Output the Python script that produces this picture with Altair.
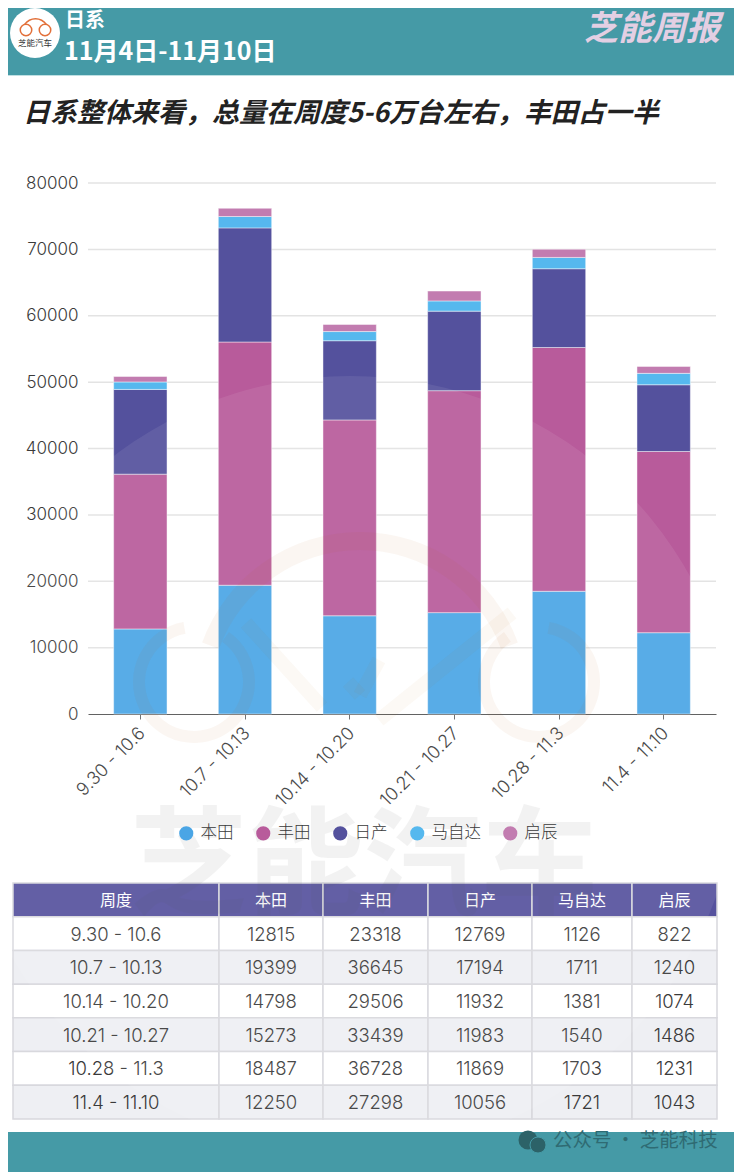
import altair as alt
import pandas as pd

weeks = ["9.30 - 10.6", "10.7 - 10.13", "10.14 - 10.20", "10.21 - 10.27", "10.28 - 11.3", "11.4 - 11.10"]
brands = ["本田", "丰田", "日产", "马自达", "启辰"]
honda = [12815, 19399, 14798, 15273, 18487, 12250]
toyota = [23318, 36645, 29506, 33439, 36728, 27298]
nissan = [12769, 17194, 11932, 11983, 11869, 10056]
mazda = [1126, 1711, 1381, 1540, 1703, 1721]
venucia = [822, 1240, 1074, 1486, 1231, 1043]
series = [honda, toyota, nissan, mazda, venucia]
colors = ["#4AA5E5", "#B85B9B", "#54519D", "#56B8EE", "#C27CB0"]
y_ticks = [0, 10000, 20000, 30000, 40000, 50000, 60000, 70000, 80000]

header_lines = ["日系", "11月4日-11月10日"]
brand_mark = "芝能周报"
title_text = "日系整体来看，总量在周度5-6万台左右，丰田占一半"
watermark_text = "芝能汽车"
footer_text = "公众号 · 芝能科技"
logo_text = "芝能汽车"
table_head = ["周度"] + brands
col_edges = [5, 211, 315, 420, 524, 624, 709]

CJK = "Noto Sans CJK SC"
NUM = "Inter, Noto Sans CJK SC"
TEAL = "#459AA6"
W, H = 726, 1164

one = pd.DataFrame({"a": [0]})

def box(x, x2, y, y2, color, opacity=1.0):
    return alt.Chart(one).mark_rect(color=color, opacity=opacity).encode(
        x=alt.value(x), x2=alt.value(x2), y=alt.value(y), y2=alt.value(y2))

def label(text, x, y, size, color, align="left", weight="normal", style="normal", font=CJK, opacity=1.0):
    return alt.Chart(one).mark_text(text=text, x=x, y=y, fontSize=size, color=color, align=align,
                                    baseline="middle", fontWeight=weight, fontStyle=style, font=font,
                                    opacity=opacity).encode()

def ring(x, y, r, r2, t1, t2, color, opacity):
    return alt.Chart(one).mark_arc(x=x, y=y, radius=r, radius2=r2, theta=t1, theta2=t2,
                                   color=color, opacity=opacity).encode()

def seg(x, y, x2, y2, width, color, opacity):
    return alt.Chart(one).mark_rule(strokeWidth=width, color=color, opacity=opacity).encode(
        x=alt.value(x), y=alt.value(y), x2=alt.value(x2), y2=alt.value(y2))

rad = 3.14159265 / 180

# stacked bars
rows = []
for i, (b, vals) in enumerate(zip(brands, series)):
    for w, v in zip(weeks, vals):
        rows.append({"week": w, "brand": b, "value": v, "order": i})
bars_df = pd.DataFrame(rows)

y_scale = alt.Scale(domain=[0, 80000], range=[706, 175])
grid = alt.Chart(pd.DataFrame({"tick": y_ticks[1:]})).mark_rule(color="#E3E3E3", strokeWidth=1.5).encode(
    y=alt.Y("tick:Q", scale=y_scale, axis=None), x=alt.value(80), x2=alt.value(708))

bars = alt.Chart(bars_df).mark_bar(stroke="#FFFFFF", strokeOpacity=0.45, strokeWidth=1).encode(
    x=alt.X("week:N", sort=weeks, title=None,
            scale=alt.Scale(range=[80, 708], paddingInner=0.49, paddingOuter=0.245),
            axis=alt.Axis(offset=-458, labelAngle=315, labelAlign="right", labelBaseline="top",
                          labelFontSize=18, labelColor="#3A3A3A", labelFont=NUM, labelFontWeight=300,
                          labelPadding=5, labelOffset=-4, labelLimit=200, tickColor="#666666", tickSize=5,
                          domainColor="#555555", domainWidth=1, grid=False, labelOverlap=False)),
    y=alt.Y("value:Q", stack="zero", title=None, scale=y_scale,
            axis=alt.Axis(offset=-80, values=y_ticks, domain=False, ticks=False, grid=False,
                          labelFontSize=17, labelColor="#3A3A3A", labelFont=NUM, labelFontWeight=300,
                          labelPadding=10, format="d")),
    color=alt.Color("brand:N", sort=brands, title=None,
                    scale=alt.Scale(domain=brands, range=colors),
                    legend=alt.Legend(orient="none", legendX=170, legendY=817, direction="horizontal",
                                      columns=5, symbolType="circle", symbolSize=200, symbolStrokeWidth=0,
                                      labelFontSize=16.5, labelFont=NUM, labelFontWeight=300,
                                      labelColor="#3A3A3A", labelOffset=6, columnPadding=21,
                                      symbolOpacity=1)),
    order=alt.Order("order:Q", sort="ascending"),
)

# table
cell_rows = []
row_names = ["head"] + weeks
for r, name in enumerate(row_names):
    for c in range(6):
        if r == 0:
            txt, fill, ink = table_head[c], "#56529E", "#FFFFFF"
        else:
            txt = weeks[r - 1] if c == 0 else str(series[c - 1][r - 1])
            fill = "#FFFFFF" if r % 2 == 1 else "#EEEFF3"
            ink = "#3A3A3A"
        cell_rows.append({"row": name, "x0": col_edges[c], "x1": col_edges[c + 1],
                          "xc": (col_edges[c] + col_edges[c + 1]) / 2, "txt": txt, "fill": fill, "ink": ink,
                          "head": r == 0})
cells_df = pd.DataFrame(cell_rows)
row_y = alt.Y("row:N", sort=row_names, axis=None, title=None,
              scale=alt.Scale(domain=row_names, range=[875, 1111], paddingInner=0, paddingOuter=0))
cells = alt.Chart(cells_df).mark_rect(stroke="#D8D8DD", strokeWidth=1.5).encode(
    x=alt.X("x0:Q", scale=None, axis=None), x2="x1:Q", y=row_y, fill=alt.Fill("fill:N", scale=None))
cell_text = alt.Chart(cells_df[~cells_df["head"]]).mark_text(fontSize=18.5, font=NUM, fontWeight=300, baseline="middle", dy=1).encode(
    x=alt.X("xc:Q", scale=None, axis=None), y=row_y, text="txt:N", color=alt.Color("ink:N", scale=None))
head_text = alt.Chart(cells_df[cells_df["head"]]).mark_text(fontSize=16, font=CJK, baseline="middle", dy=1.5).encode(
    x=alt.X("xc:Q", scale=None, axis=None), y=row_y, text="txt:N", color=alt.Color("ink:N", scale=None))

# faint watermark on top of the bars and the table
WM = "#C06A20"
disc = alt.Chart(one).mark_arc(x=342, y=757, radius=389, theta=0, theta2=6.2832, color="#FFFFFF", opacity=0.08).encode()
watermark = [
    ring(186, 674, 61, 49, 35 * rad, 350 * rad, WM, 0.06),
    ring(531, 674, 61, 49, 10 * rad, 325 * rad, WM, 0.06),
    ring(352, 692, 168, 150, 290 * rad, 430 * rad, WM, 0.06),
    seg(238, 615, 314, 699, 14, WM, 0.045),
    seg(504, 605, 371, 712, 14, WM, 0.045),
    seg(340, 674, 352, 687, 14, WM, 0.045),
    seg(352, 687, 371, 652, 14, WM, 0.045),
    label(watermark_text, 356, 862, 117, "#555555", align="center", weight="bold", opacity=0.07),
]

# header and footer
chrome = [
    box(0, W, 0, 67, TEAL),
    box(0, W, 67, 68, "#BFE0E3"),
    box(0, W, 1124, H, TEAL),
    alt.Chart(one).mark_arc(x=27, y=25, radius=25, theta=0, theta2=6.2832, color="#FFFFFF").encode(),
    ring(18, 22, 6.5, 5, 0, 6.2832, "#E2703A", 1),
    ring(37, 22, 6.5, 5, 0, 6.2832, "#E2703A", 1),
    ring(27.5, 24, 14, 12.5, 305 * rad, 415 * rad, "#E2703A", 1),
    label(logo_text, 27, 35, 8.5, "#333333", align="center"),
    label(header_lines[0], 57, 13, 20, "#FFFFFF", weight="bold"),
    label(header_lines[1], 56, 44, 25, "#FFFFFF", weight="bold"),
    label(brand_mark, 712, 22, 34, "#E3CFE3", align="right", weight="bold", style="italic"),
    label(title_text, 15, 106, 27, "#222222", weight="bold", style="italic"),
    label(footer_text, 545, 1133, 19.5, "#2F6B73"),
    alt.Chart(one).mark_arc(x=520, y=1132, radius=9.5, theta=0, theta2=6.2832, color="#2C6268").encode(),
    alt.Chart(one).mark_arc(x=530, y=1137, radius=8, theta=0, theta2=6.2832, color="#2C6268", stroke=TEAL, strokeWidth=1).encode(),
]

chart = alt.layer(
    grid, bars, cells, cell_text, head_text, disc, *watermark, *chrome
).resolve_scale(x="independent", y="independent", color="independent").properties(
    width=W, height=H, padding=0, autosize=alt.AutoSizeParams(type="none"), background="#FFFFFF"
).configure_view(stroke=None)

chart.save("out.html", embed_options={"renderer": "svg", "actions": False})
